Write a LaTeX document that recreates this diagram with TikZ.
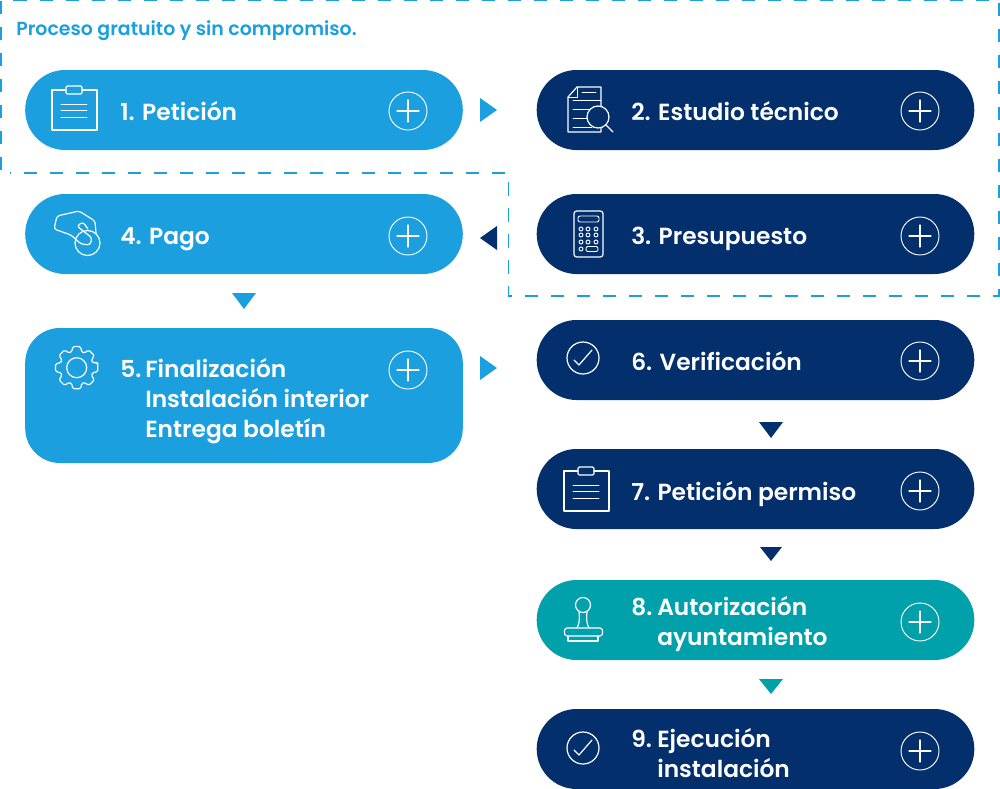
\documentclass[tikz,border=0pt]{standalone}
\usepackage{fontspec}
\setmainfont{Poppins}[BoldFont={Poppins SemiBold}]
\usepackage{xcolor}
\definecolor{sky}{HTML}{1C9FDF}
\definecolor{navy}{HTML}{032F6C}
\definecolor{teal}{HTML}{00A1AB}
\newcommand{\num}[2]{\makebox[#1][l]{#2}}
\tikzset{
  pill/.style={minimum width=328.2pt,minimum height=60pt,rounded corners=29.9pt,inner sep=0pt},
  lab/.style={text=white,anchor=base west,inner sep=0pt,font=\fontsize{17.5}{22.5}\selectfont\bfseries},
  multilab/.style={lab,anchor=west,align=left},
  icon/.style={draw=white,line width=0.9pt,line join=round,line cap=round},
  thin icon/.style={draw=white,line width=0.7pt,line join=round,line cap=round},
  plus/.pic={
    \draw[thin icon] (0,0) circle (19);
    \draw[icon] (-11,0) -- (11,0) (0,-11) -- (0,11);
  },
  clip board/.pic={
    \draw[icon] (14,-1) -- (0,-1) -- (0,39) -- (45,39) -- (45,-1) -- (30,-1);
    \draw[icon,rounded corners=1] (14,-5) rectangle (30,3);
    \draw[thin icon] (9,13) -- (35,13) (9,19.5) -- (35,19.5) (9,26) -- (35,26);
  },
  check/.pic={
    \draw[icon] (0,0) circle (16);
    \draw[icon] (-9,2) -- (-4,7) -- (9,-8);
  }
}

\begin{document}
\begin{tikzpicture}[x=0.75pt,y=-0.75pt]
\useasboundingbox (0,0) rectangle (1000,789);
% dashed frame
\draw[sky,line width=1pt,dash pattern=on 9.8pt off 9.7pt] (1,170) -- (1,0.5) -- (999,0.5) -- (999,296) -- (508.5,296) -- (508.5,173) -- (10,173);
\node[text=sky,anchor=base west,inner sep=0pt,font=\fontsize{14.2}{18}\selectfont\bfseries] (title) at (16,35) {Proceso gratuito y sin compromiso.};

% boxes
\node[pill,fill=sky] (peticion) at (244,110) {};
\node[pill,fill=navy] (estudio) at (755.5,110) {};
\node[pill,fill=sky] (pago) at (244,234) {};
\node[pill,fill=navy] (presupuesto) at (755.5,234) {};
\node[pill,fill=sky,minimum height=101.25pt,rounded corners=26pt] (finalizacion) at (244,395.5) {};
\node[pill,fill=navy] (verificacion) at (755.5,360) {};
\node[pill,fill=navy] (permiso) at (755.5,489) {};
\node[pill,fill=teal] (autorizacion) at (755.5,620) {};
\node[pill,fill=navy] (ejecucion) at (755.5,749) {};

% labels
\node[lab] (lab1) at (120,120) {1. Petición};
\node[lab] (lab2) at (631,120) {2. Estudio técnico};
\node[lab] (lab3) at (631,244) {3. Presupuesto};
\node[lab] (lab4) at (120,244) {4. Pago};
\node[multilab] (lab5) at (120,401) {\num{18.8pt}{5.}Finalización\\\num{18.8pt}{}Instalación interior\\\num{18.8pt}{}Entrega boletín};
\node[lab] (lab6) at (631,370) {6. Verificación};
\node[lab] (lab7) at (631,500) {7. Petición permiso};
\node[multilab] (lab8) at (631,624) {\num{19.5pt}{8.}Autorización\\\num{19.5pt}{}ayuntamiento};
\node[multilab] (lab9) at (631,753) {\num{19.5pt}{9.}Ejecución\\\num{19.5pt}{}instalación};

% plus signs
\foreach \px/\py in {408/111,408/236,408/370,920/111,920/236,920/361,920/491,920/622,920/751}
  \pic at (\px,\py) {plus};

% arrows
\fill[sky] (480,98) -- (497,110) -- (480,122) -- cycle;
\fill[navy] (497,226) -- (480,238) -- (497,250) -- cycle;
\fill[sky] (232,293) -- (256,293) -- (244,309) -- cycle;
\fill[sky] (480,356) -- (497,368) -- (480,380) -- cycle;
\fill[navy] (759,422) -- (783,422) -- (771,438) -- cycle;
\fill[navy] (760,547) -- (782,547) -- (771,561) -- cycle;
\fill[teal] (759,679) -- (783,679) -- (771,694) -- cycle;

% icons
\pic at (52,91) {clip board};
\pic at (564,472) {clip board};
\pic at (583,358) {check};
\pic at (583,748) {check};
% document
\draw[icon] (601,106) -- (601,87) -- (577,87) -- (568,97) -- (568,132) -- (601,132) -- (601,128);
\draw[thin icon] (568,97) -- (577,97) -- (577,87);
\draw[thin icon] (582,92) -- (596,92) (573,100) -- (601,100) (573,109) -- (590,109) (573,118) -- (587,118) (573,127) -- (592,127);
\draw[icon] (598,117) circle (11);
\draw[icon] (606,125) -- (613,132);
% calculator
\draw[icon,rounded corners=2] (574,211) rectangle (603,257);
\draw[thin icon,rounded corners=1.5] (578,216) rectangle (599,222);
\foreach \bx in {581,588,596}
  \foreach \by in {229,235,242}
    \draw[thin icon] (\bx,\by) circle (2);
\draw[thin icon] (581,249) circle (2);
\draw[thin icon,rounded corners=1.5] (586,246.5) rectangle (598,251.5);
% hand and coin
\draw[icon,rounded corners=2] (96,233) -- (95,221) -- (79,211) -- (57,216) -- (54,229) -- (71,235) -- (81,244) -- (90,245) -- (92,238) -- (77,226) -- (83,222) -- (88,229);
\draw[icon] (87.5,243) circle (12.5);
% gear
\draw[icon,shift={(76.7,367.7)},rounded corners=1.2] (-14:21) \foreach \a in {0,45,...,315} { -- (\a-11:21.5) -- (\a+11:21.5) -- (\a+17:16.5) -- (\a+28:16.5) } -- cycle;
\draw[icon] (76.7,367.7) circle (10);
% stamp
\draw[icon] (583,605) circle (7.5);
\draw[icon] (579,612) .. controls (580,620) and (579,624) .. (577,628);
\draw[icon] (587,612) .. controls (586,620) and (587,624) .. (589,628);
\draw[icon,rounded corners=2] (564.5,628) rectangle (602.5,636);
\draw[icon] (568,636) -- (568,641) -- (598,641) -- (598,636);
\end{tikzpicture}
\end{document}
